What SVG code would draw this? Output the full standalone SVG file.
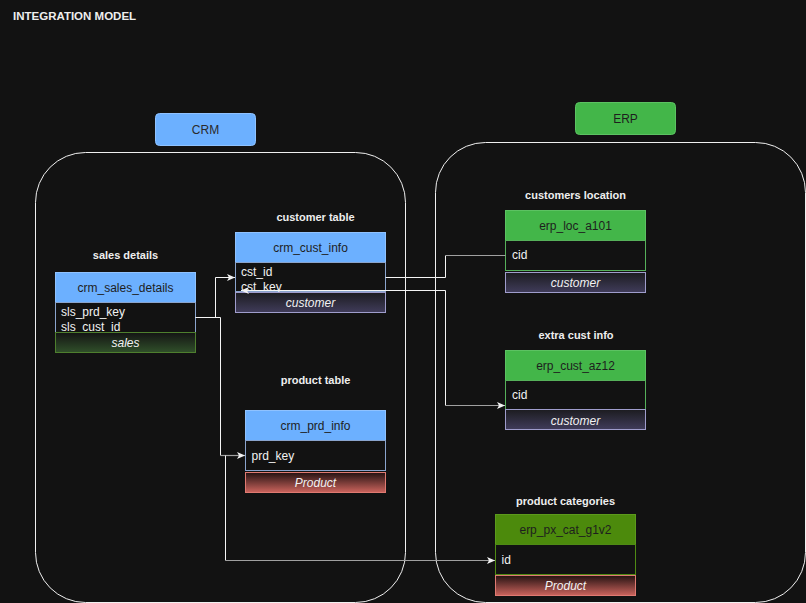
<svg xmlns="http://www.w3.org/2000/svg" width="806" height="603" viewBox="0 0 806 603">
  <style>
    text { font-family: "Liberation Sans", Arial, Helvetica, sans-serif; }
    .title { font-size: 11.5px; font-weight: bold; fill: #eeeeee; }
    .label { font-size: 11px; font-weight: bold; fill: #eeeeee; text-anchor: middle; }
    .hdr-text { font-size: 12px; fill: #1e1e1e; text-anchor: middle; }
    .row { font-size: 12px; fill: #f2f2f2; }
    .foot-text { font-size: 12px; font-style: italic; fill: #f2f2f2; text-anchor: middle; }
    .blue { fill: #6cb0ff; stroke: #8fc2ff; stroke-width: 1; }
    .green { fill: #43b649; stroke: #5cc262; stroke-width: 1; }
    .dkgreen { fill: #4c8a0c; stroke: #5c9a1c; stroke-width: 1; }
    .body-blue { fill: #121212; stroke: #8aa4cc; stroke-width: 1; }
    .body-green { fill: #121212; stroke: #56b05a; stroke-width: 1; }
    .body-dkgreen { fill: #121212; stroke: #4f8a14; stroke-width: 1; }
    .container { fill: none; stroke: #f0f0f0; stroke-width: 1; }
    .wire { fill: none; stroke: #f5f5f5; stroke-width: 1; }
    .wire-dim { fill: none; stroke: #a0a0a0; stroke-width: 1.2; }
  </style>
  <defs>
    <linearGradient id="gSales" x1="0" y1="0" x2="0" y2="1">
      <stop offset="0" stop-color="#141414"/>
      <stop offset="1" stop-color="#30502a"/>
    </linearGradient>
    <linearGradient id="gCustomer" x1="0" y1="0" x2="0" y2="1">
      <stop offset="0" stop-color="#1c1c20"/>
      <stop offset="1" stop-color="#403c5a"/>
    </linearGradient>
    <linearGradient id="gProduct" x1="0" y1="0" x2="0" y2="1">
      <stop offset="0" stop-color="#241212"/>
      <stop offset="1" stop-color="#cc645d"/>
    </linearGradient>
    <marker id="arrow" markerWidth="9" markerHeight="8" refX="8" refY="4" orient="auto" markerUnits="userSpaceOnUse">
      <path d="M0,0.5 L8,4 L0,7.5 L2,4 z" fill="#f2f2f2"/>
    </marker>
  </defs>

  <rect x="0" y="0" width="806" height="603" fill="#121212"/>

  <text class="title" x="13" y="20">INTEGRATION MODEL</text>

  <!-- system groups -->
  <g id="crm-group">
    <rect class="container" x="35.5" y="152.5" width="370" height="450" rx="50" ry="50"/>
    <rect class="blue" x="155.5" y="113.5" width="100" height="32" rx="4" ry="4"/>
    <text x="205.5" y="133.5" font-size="12" fill="#2a2a2a" text-anchor="middle">CRM</text>
  </g>
  <g id="erp-group">
    <rect class="container" x="435.5" y="142.5" width="370" height="460" rx="50" ry="50"/>
    <rect class="green" x="575.5" y="102.5" width="100" height="32" rx="4" ry="4"/>
    <text x="625.5" y="122.5" font-size="12" fill="#1e1e1e" text-anchor="middle">ERP</text>
  </g>

  <!-- CRM tables -->
  <g id="crm_sales_details">
    <text class="label" x="125.5" y="259">sales details</text>
    <rect class="blue" x="55.5" y="272.5" width="140" height="30"/>
    <text class="hdr-text" x="125.5" y="292">crm_sales_details</text>
    <rect class="body-blue" x="55.5" y="302.5" width="140" height="30"/>
    <text class="row" x="61" y="316">sls_prd_key</text>
    <text class="row" x="61" y="330.5">sls_cust_id</text>
    <rect x="55.5" y="332.5" width="140" height="20" fill="url(#gSales)" stroke="#4e7f2e"/>
    <text class="foot-text" x="125.5" y="346.5">sales</text>
  </g>

  <g id="crm_cust_info">
    <text class="label" x="315.5" y="221">customer table</text>
    <rect class="blue" x="235.5" y="232.5" width="150" height="30"/>
    <text class="hdr-text" x="310.5" y="252">crm_cust_info</text>
    <rect class="body-blue" x="235.5" y="262.5" width="150" height="29"/>
    <text class="row" x="241" y="276">cst_id</text>
    <text class="row" x="241" y="290.5">cst_key</text>
    <rect x="235.5" y="292.5" width="150" height="20" fill="url(#gCustomer)" stroke="#9f9dcc"/>
    <text class="foot-text" x="310.5" y="306.5">customer</text>
  </g>

  <g id="crm_prd_info">
    <text class="label" x="315.5" y="384">product table</text>
    <rect class="blue" x="245.5" y="410.5" width="140" height="30"/>
    <text class="hdr-text" x="315.5" y="430">crm_prd_info</text>
    <rect class="body-blue" x="245.5" y="440.5" width="140" height="30"/>
    <text class="row" x="251.5" y="460">prd_key</text>
    <rect x="245.5" y="472.5" width="140" height="20" fill="url(#gProduct)" stroke="#e07a72"/>
    <text class="foot-text" x="315.5" y="486.5">Product</text>
  </g>

  <!-- ERP tables -->
  <g id="erp_loc_a101">
    <text class="label" x="575.5" y="199">customers location</text>
    <rect class="green" x="505.5" y="210.5" width="140" height="30"/>
    <text class="hdr-text" x="575.5" y="230">erp_loc_a101</text>
    <rect class="body-green" x="505.5" y="240.5" width="140" height="30"/>
    <text class="row" x="512" y="259">cid</text>
    <rect x="505.5" y="272.5" width="140" height="20" fill="url(#gCustomer)" stroke="#9f9dcc"/>
    <text class="foot-text" x="575.5" y="286.5">customer</text>
  </g>

  <g id="erp_cust_az12">
    <text class="label" x="576" y="339">extra cust info</text>
    <rect class="green" x="505.5" y="350.5" width="140" height="30"/>
    <text class="hdr-text" x="575.5" y="370">erp_cust_az12</text>
    <rect class="body-green" x="505.5" y="380.5" width="140" height="29"/>
    <text class="row" x="512" y="399">cid</text>
    <rect x="505.5" y="409.5" width="140" height="20" fill="url(#gCustomer)" stroke="#9f9dcc"/>
    <text class="foot-text" x="575.5" y="424.5">customer</text>
  </g>

  <g id="erp_px_cat_g1v2">
    <text class="label" x="565.5" y="505">product categories</text>
    <rect class="dkgreen" x="495.5" y="514.5" width="140" height="30"/>
    <text class="hdr-text" x="565.5" y="534">erp_px_cat_g1v2</text>
    <rect class="body-dkgreen" x="495.5" y="544.5" width="140" height="30"/>
    <text class="row" x="501.5" y="564">id</text>
    <rect x="495.5" y="575.5" width="140" height="20" fill="url(#gProduct)" stroke="#e07a72"/>
    <text class="foot-text" x="565.5" y="589.5">Product</text>
  </g>

  <!-- connectors -->
  <g id="connectors">
    <path class="wire" d="M195.5 317.5 H215.5 V277.5 H235" marker-end="url(#arrow)"/>
    <path class="wire" d="M195.5 317.5 H220.5 V455.5"/>
    <path class="wire-dim" d="M220.5 455.5 H245" marker-end="url(#arrow)"/>
    <path class="wire" d="M225.5 455.5 V560.5"/>
    <path class="wire-dim" d="M225.5 560.5 H495" marker-end="url(#arrow)"/>
    <path class="wire" d="M385.5 277.5 H445.5 V255.5"/>
    <path class="wire-dim" d="M445.5 255.5 H505.5"/>
    <path class="wire" d="M445.5 290.5 V405.5"/>
    <path class="wire-dim" d="M445.5 405.5 H505" marker-end="url(#arrow)"/>
    <path class="wire" d="M445.5 290.5 H241" marker-end="url(#arrow)"/>
  </g>
</svg>
